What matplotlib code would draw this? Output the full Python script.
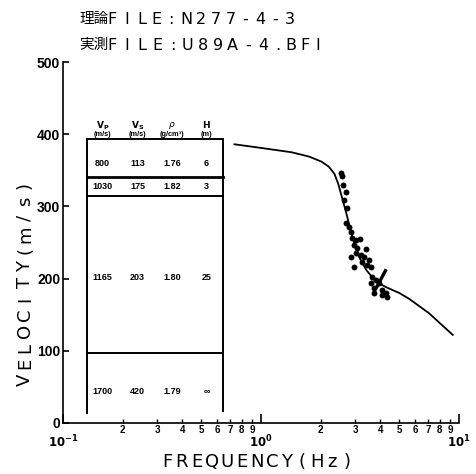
import matplotlib

matplotlib.use("Agg")

import matplotlib.pyplot as plt
from matplotlib.ticker import FixedLocator, FuncFormatter, LogLocator
import numpy as np

W, H = 477, 474

# theoretical dispersion curve (Hz, m/s)
curve_freq = [0.735, 1.0, 1.425, 1.75, 2.02, 2.2, 2.35, 2.45, 2.55, 2.70, 2.89,
              3.10, 3.40, 3.80, 4.29, 5.00, 5.60, 7.06, 9.30]
curve_vel = [386, 381, 375, 369, 362, 355, 345, 332, 315, 290, 258,
             232, 212, 196, 188, 180, 172, 152, 122]

# observed phase velocities
obs_freq = [2.54, 2.57, 2.60, 2.70, 2.64, 2.73, 2.70, 2.79, 2.86, 2.89, 3.03, 3.17,
            2.96, 3.06, 3.40, 3.03, 3.21, 3.32, 2.86, 3.52, 3.25, 3.44, 2.96, 3.60,
            3.65, 3.82, 3.60, 3.95, 3.73, 3.73, 4.09, 4.29, 4.34, 4.09]
obs_vel = [346, 342, 330, 320, 309, 298, 277, 271, 265, 256, 253, 255,
           247, 242, 241, 235, 233, 230, 230, 226, 223, 219, 216, 216,
           202, 198, 194, 194, 187, 180, 184, 180, 175, 177]

# marker bar on the observed data
bar_freq = [4.29, 3.82]
bar_vel = [213, 187]

# layered model
layer_vp = ["800", "1030", "1165", "1700"]
layer_vs = ["113", "175", "203", "420"]
layer_rho = ["1.76", "1.82", "1.80", "1.79"]
layer_h = ["6", "3", "25", "\u221e"]
header_names = [r"$\mathbf{V_P}$", r"$\mathbf{V_S}$", r"$\rho$", "H"]
header_units = ["(m/s)", "(m/s)", "(g/cm\u00b3)", "(m)"]

title_1 = ("理論", "FILE:N277-4-3")
title_2 = ("実測", "FILE:U89A-4.BFI")

plt.rcParams["font.family"] = ["DejaVu Sans"]


def px(x, y):
    return x / W, 1 - y / H


def spaced(fig, x0, y, text, pitch, rotate=False, **kw):
    for i, ch in enumerate(text):
        if rotate:
            fig.text(*px(x0, y - i * pitch), ch, ha="center", va="center",
                     rotation=90, **kw)
        else:
            fig.text(*px(x0 + i * pitch, y), ch, ha="center", va="center", **kw)


fig = plt.figure(figsize=(W / 100, H / 100), dpi=100)
ax = fig.add_axes([63 / W, 1 - 423 / H, 396 / W, 361 / H])

ax.plot(curve_freq, curve_vel, color="black", lw=1.3)
ax.scatter(obs_freq, obs_vel, s=18, color="black", zorder=3, linewidths=0)
ax.plot(bar_freq, bar_vel, color="black", lw=2.4, solid_capstyle="butt")

ax.set_xscale("log")
ax.set_xlim(0.1, 10)
ax.set_ylim(0, 500)

for s in ("top", "right"):
    ax.spines[s].set_visible(False)
for s in ("left", "bottom"):
    ax.spines[s].set_linewidth(1.2)

ax.xaxis.set_major_locator(FixedLocator([0.1, 1, 10]))
ax.xaxis.set_minor_locator(LogLocator(base=10, subs=np.arange(2, 10)))
ax.xaxis.set_major_formatter(
    FuncFormatter(lambda v, _p: rf"$\mathbf{{10^{{{int(round(np.log10(v)))}}}}}$"))
ax.xaxis.set_minor_formatter(
    FuncFormatter(lambda v, _p: f"{int(round(v / 10 ** np.floor(np.log10(v) + 1e-9)))}"))
ax.yaxis.set_major_locator(FixedLocator([0, 100, 200, 300, 400, 500]))
ax.yaxis.set_major_formatter(FuncFormatter(lambda v, _p: f"{v:g}"))

ax.tick_params(which="both", direction="in", top=False, right=False)
ax.tick_params(axis="x", which="major", length=6.5, width=1.2, pad=8, labelsize=8.5)
ax.tick_params(axis="x", which="minor", length=3.2, width=1.0, pad=1.5, labelsize=7)
ax.tick_params(axis="y", which="major", length=4.5, width=1.2, pad=2, labelsize=10)
for lab in ax.get_xticklabels(minor=True) + ax.get_yticklabels():
    lab.set_fontweight("bold")
    lab.set_family("Liberation Sans")

# layered model table (drawn in data coordinates)
t_left, t_right = 0.132, 0.645
t_top, t_bot = 393, 14
lkw = dict(color="black", lw=1.4)
ax.plot([t_left, t_left], [t_bot, t_top], **lkw)
ax.plot([t_right, t_right], [t_bot + 2, t_top], **lkw)
ax.plot([t_left, t_right], [t_top, t_top], **lkw)
ax.plot([t_left, t_right], [341, 341], color="black", lw=2.0)
ax.plot([t_left, t_right], [315, 315], **lkw)
ax.plot([t_left, t_right], [97, 97], **lkw)

col_x = [0.158, 0.238, 0.356, 0.53]
row_v = [359, 328, 202, 44]
for j, vals in enumerate(zip(layer_vp, layer_vs, layer_rho, layer_h)):
    for x, val in zip(col_x, vals):
        ax.text(x, row_v[j], val, ha="center", va="center", fontsize=6.5,
                fontweight="bold", family="Liberation Sans")
for x, name, unit in zip(col_x, header_names, header_units):
    ax.text(x, 412, name, ha="center", va="center", fontsize=6.5, fontweight="bold")
    ax.text(x, 400, unit, ha="center", va="center", fontsize=5.3, fontweight="bold",
            family="Liberation Sans")

# titles with wide letter spacing
tkw = dict(fontsize=11.5, color="black")
ckw = dict(fontsize=10.5, family=["Noto Sans CJK JP"], color="black")
for y, (cjk, rest) in zip((19, 45), (title_1, title_2)):
    fig.text(*px(94, y), cjk, ha="center", va="center", **ckw)
spaced(fig, 112, 19, title_1[1], 14.8, **tkw)
spaced(fig, 112, 45, title_2[1][:11], 15.1, **tkw)
spaced(fig, 278, 45, title_2[1][11:], 13.3, **tkw)

# axis labels
spaced(fig, 25, 380, "VELOCITY(m/s)", 16.2, rotate=True, fontsize=13)
spaced(fig, 167, 462, "FREQUENCY(Hz)", 15.0, fontsize=13)

fig.savefig("out.png", dpi=100)
